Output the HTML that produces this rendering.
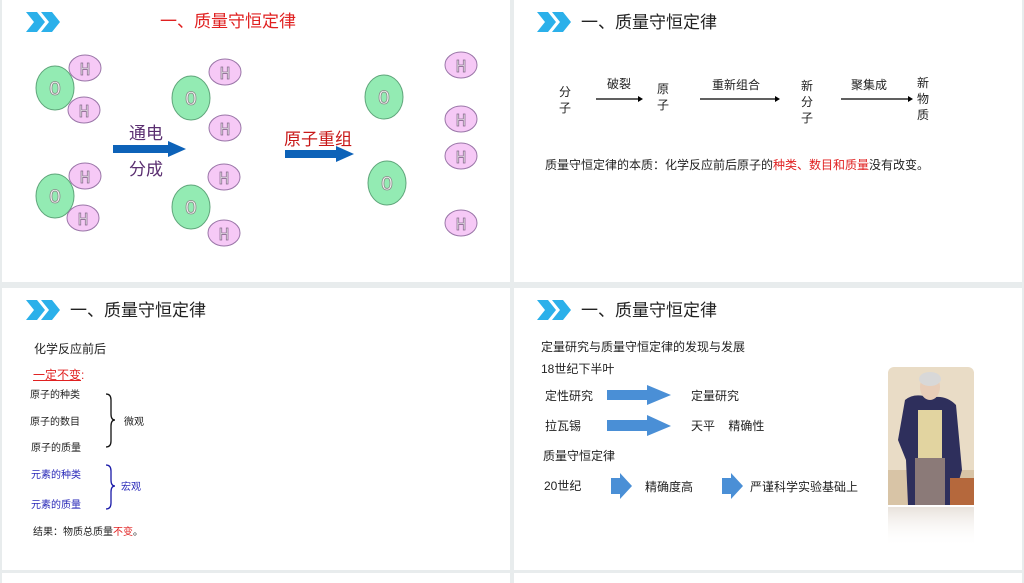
<!DOCTYPE html>
<html><head><meta charset="utf-8"><style>
body{margin:0;width:1024px;height:577px;background:#e8eced;position:relative;overflow:hidden;font-family:"Liberation Sans","Noto Sans CJK SC",sans-serif;}
.p{position:absolute;background:#fff;}
.t{position:absolute;white-space:nowrap;color:#222;}
</style></head><body>
<div class="p" style="left:2px;top:0;width:508px;height:282px"></div>
<div class="p" style="left:514px;top:0;width:508px;height:282px"></div>
<div class="p" style="left:2px;top:288px;width:508px;height:282px"></div>
<div class="p" style="left:514px;top:288px;width:508px;height:282px"></div>
<div class="p" style="left:2px;top:573px;width:508px;height:10px"></div>
<div class="p" style="left:514px;top:573px;width:508px;height:10px"></div>

<svg width="1024" height="577" style="position:absolute;left:0;top:0">
<defs>
<g id="chev"><polygon points="0,0 11,0 19,10 11,20 0,20 8,10" fill="#2bb0ea"/><polygon points="15,0 26,0 34,10 26,20 15,20 23,10" fill="#2bb0ea"/></g>
</defs>
<use href="#chev" x="26" y="12"/>
<use href="#chev" x="537" y="12"/>
<use href="#chev" x="26" y="300"/>
<use href="#chev" x="537" y="300"/>
<g stroke="#5fa57a" stroke-width="1" fill="#93ebb3">
<ellipse cx="55" cy="88" rx="19" ry="22"/><ellipse cx="55" cy="196" rx="19" ry="22"/>
<ellipse cx="191" cy="98" rx="19" ry="22"/><ellipse cx="191" cy="207" rx="19" ry="22"/>
<ellipse cx="384" cy="97" rx="19" ry="22"/><ellipse cx="387" cy="183" rx="19" ry="22"/>
</g>
<g stroke="#9a76a8" stroke-width="1" fill="#f6c9f6">
<ellipse cx="85" cy="68" rx="16" ry="13"/><ellipse cx="84" cy="110" rx="16" ry="13"/>
<ellipse cx="85" cy="176" rx="16" ry="13"/><ellipse cx="83" cy="218" rx="16" ry="13"/>
<ellipse cx="225" cy="72" rx="16" ry="13"/><ellipse cx="225" cy="128" rx="16" ry="13"/>
<ellipse cx="224" cy="177" rx="16" ry="13"/><ellipse cx="224" cy="233" rx="16" ry="13"/>
<ellipse cx="461" cy="65" rx="16" ry="13"/><ellipse cx="461" cy="119" rx="16" ry="13"/>
<ellipse cx="461" cy="156" rx="16" ry="13"/><ellipse cx="461" cy="223" rx="16" ry="13"/>
</g>
<g font-family="Liberation Mono,monospace" font-size="20" text-anchor="middle" fill="#f4f4f4" stroke="#8a8a8a" stroke-width="0.8">
<text x="55" y="95">O</text><text x="55" y="203">O</text><text x="191" y="105">O</text><text x="191" y="214">O</text><text x="384" y="104">O</text><text x="387" y="190">O</text>
</g>
<g font-family="Liberation Mono,monospace" font-size="18" text-anchor="middle" fill="#f4f4f4" stroke="#8a6a90" stroke-width="0.8">
<text x="85" y="75">H</text><text x="84" y="117">H</text><text x="85" y="183">H</text><text x="83" y="225">H</text>
<text x="225" y="79">H</text><text x="225" y="135">H</text><text x="224" y="184">H</text><text x="224" y="240">H</text>
<text x="461" y="72">H</text><text x="461" y="126">H</text><text x="461" y="163">H</text><text x="461" y="230">H</text>
</g>
<polygon points="113,145 168,145 168,141 186,149 168,157 168,153 113,153" fill="#0d62b8"/>
<polygon points="285,150 336,150 336,146 354,154 336,162 336,158 285,158" fill="#0d62b8"/>
<g stroke="#000" stroke-width="1.3">
<line x1="596" y1="99" x2="638" y2="99"/><line x1="700" y1="99" x2="775" y2="99"/><line x1="841" y1="99" x2="908" y2="99"/>
</g>
<polygon points="638,96 643,99 638,102" fill="#000"/><polygon points="775,96 780,99 775,102" fill="#000"/><polygon points="908,96 913,99 908,102" fill="#000"/>
<path d="M106,394 Q111,394 111,400 L111,414 Q111,420 115,420 Q111,420 111,426 L111,441 Q111,447 106,447" fill="none" stroke="#111" stroke-width="1.3"/>
<path d="M106,465 Q111,465 111,471 L111,480 Q111,486 115,486 Q111,486 111,492 L111,503 Q111,509 106,509" fill="none" stroke="#1a1aa8" stroke-width="1.3"/>
<g fill="#4a8fd6">
<polygon points="607,390 647,390 647,385 671,395 647,405 647,400 607,400"/>
<polygon points="607,420 647,420 647,415 671,426 647,436 647,431 607,431"/>
<polygon points="611,478 620,478 620,473 632,486 620,499 620,494 611,494"/>
<polygon points="722,478 731,478 731,473 743,486 731,499 731,494 722,494"/>
</g>
<defs><linearGradient id="fd" x1="0" y1="0" x2="0" y2="1"><stop offset="0" stop-color="#d9cfc4" stop-opacity="0.6"/><stop offset="1" stop-color="#fff" stop-opacity="0"/></linearGradient></defs>
<rect x="888" y="367" width="86" height="138" rx="6" fill="#e9dcc6"/>
<rect x="888" y="470" width="86" height="35" fill="#d8c4a6"/>
<path d="M905,400 Q915,392 930,398 Q945,394 956,405 L962,470 L952,505 L908,505 L906,460 L898,440 Z" fill="#2e2f5c"/>
<rect x="918" y="410" width="24" height="50" fill="#e2d4a0"/>
<rect x="915" y="458" width="30" height="47" fill="#8b7a78"/>
<ellipse cx="930" cy="387" rx="10" ry="13" fill="#e8cdb8"/>
<ellipse cx="930" cy="379" rx="11" ry="7" fill="#d8d8d8"/>
<rect x="950" y="478" width="24" height="27" fill="#b5683c"/>
<rect x="888" y="507" width="86" height="40" fill="url(#fd)"/>
</svg>

<div class="t" style="left:160px;top:7px;font-size:17px;color:#e02020">一、质量守恒定律</div>
<div class="t" style="left:129px;top:119px;font-size:17px;color:#5a2e70">通电</div>
<div class="t" style="left:129px;top:155px;font-size:17px;color:#5a2e70">分成</div>
<div class="t" style="left:284px;top:125px;font-size:17px;color:#c81818">原子重组</div>

<div class="t" style="left:581px;top:8px;font-size:17px">一、质量守恒定律</div>
<div class="t" style="left:559px;top:84px;font-size:12px;line-height:16px;width:13px;white-space:normal">分子</div>
<div class="t" style="left:607px;top:75px;font-size:12px">破裂</div>
<div class="t" style="left:657px;top:81px;font-size:12px;line-height:16px;width:13px;white-space:normal">原子</div>
<div class="t" style="left:712px;top:76px;font-size:12px">重新组合</div>
<div class="t" style="left:801px;top:78px;font-size:12px;line-height:16px;width:13px;white-space:normal">新分子</div>
<div class="t" style="left:851px;top:76px;font-size:12px">聚集成</div>
<div class="t" style="left:917px;top:75px;font-size:12px;line-height:16px;width:13px;white-space:normal">新物质</div>
<div class="t" style="left:545px;top:156px;font-size:12px">质量守恒定律的本质：化学反应前后原子的<span style="color:#e02020">种类、数目和质量</span>没有改变。</div>

<div class="t" style="left:70px;top:296px;font-size:17px">一、质量守恒定律</div>
<div class="t" style="left:34px;top:340px;font-size:12px">化学反应前后</div>
<div class="t" style="left:33px;top:366px;font-size:12px;color:#e02020"><span style="text-decoration:underline">一定不变</span>:</div>
<div class="t" style="left:30px;top:386px;font-size:10px">原子的种类</div>
<div class="t" style="left:30px;top:413px;font-size:10px">原子的数目</div>
<div class="t" style="left:31px;top:439px;font-size:10px">原子的质量</div>
<div class="t" style="left:124px;top:413px;font-size:10px">微观</div>
<div class="t" style="left:31px;top:466px;font-size:10px;color:#2828b8">元素的种类</div>
<div class="t" style="left:31px;top:496px;font-size:10px;color:#2828b8">元素的质量</div>
<div class="t" style="left:121px;top:478px;font-size:10px;color:#2828b8">宏观</div>
<div class="t" style="left:33px;top:523px;font-size:10px">结果：物质总质量<span style="color:#e02020">不变</span>。</div>

<div class="t" style="left:581px;top:296px;font-size:17px">一、质量守恒定律</div>
<div class="t" style="left:541px;top:338px;font-size:12px">定量研究与质量守恒定律的发现与发展</div>
<div class="t" style="left:541px;top:360px;font-size:12px">18世纪下半叶</div>
<div class="t" style="left:545px;top:387px;font-size:12px">定性研究</div>
<div class="t" style="left:691px;top:387px;font-size:12px">定量研究</div>
<div class="t" style="left:545px;top:417px;font-size:12px">拉瓦锡</div>
<div class="t" style="left:691px;top:417px;font-size:12px">天平&nbsp;&nbsp;&nbsp;&nbsp;精确性</div>
<div class="t" style="left:543px;top:447px;font-size:12px">质量守恒定律</div>
<div class="t" style="left:544px;top:477px;font-size:12px">20世纪</div>
<div class="t" style="left:645px;top:478px;font-size:12px">精确度高</div>
<div class="t" style="left:750px;top:478px;font-size:12px">严谨科学实验基础上</div>
</body></html>
